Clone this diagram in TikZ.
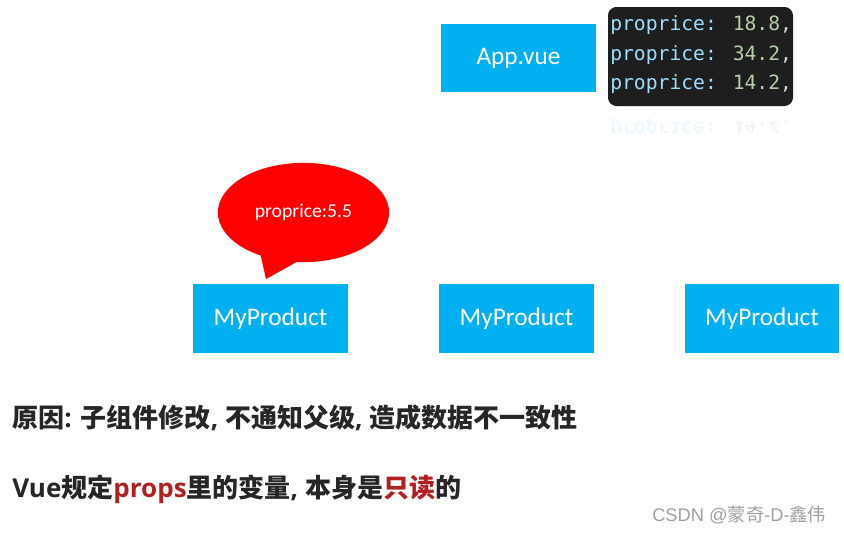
\documentclass[tikz,border=0pt]{standalone}
\usepackage{fontspec}
\setmainfont{Carlito}
\newfontfamily\cjk{Noto Sans CJK SC}
\newfontfamily\latn{Open Sans}
\newfontfamily\codefont{DejaVu Sans Mono}
\newfontfamily\markfont{Liberation Sans}
\usepackage{tikz}
\usetikzlibrary{shapes.geometric}

\definecolor{boxblue}{HTML}{00B0F0}
\definecolor{codebg}{HTML}{1E1E1E}
\definecolor{codekey}{HTML}{9CDCFE}
\definecolor{codenum}{HTML}{B5CEA8}
\definecolor{codepunct}{HTML}{D4D4D4}
\definecolor{darktext}{HTML}{262626}
\definecolor{hilite}{HTML}{B02020}
\definecolor{marktext}{HTML}{A0A0A0}

\tikzset{
  compbox/.style={fill=boxblue,text=white,minimum width=3.85cm,minimum height=1.72cm,
    font=\fontsize{18}{22}\selectfont},
  codeline/.style={anchor=west,inner sep=0pt,text=codepunct,font=\codefont\fontsize{14}{16}\selectfont},
  notetext/.style={anchor=west,inner sep=0pt,text=darktext,font=\fontsize{18.5}{22}\selectfont\bfseries}
}
\newcommand{\zh}[1]{{\cjk\bfseries #1}}
\newcommand{\en}[1]{{\latn\bfseries #1}}
\newcommand{\codeentry}[1]{\textcolor{codekey}{proprice:} \textcolor{codenum}{#1},}

\begin{document}
\begin{tikzpicture}[x=0.025cm,y=-0.025cm]
\useasboundingbox[fill=white] (0,0) rectangle (844,534);

% parent component and its data
\node[compbox] (app) at (518.5,58) {App.vue};
\fill[codebg,rounded corners=6pt] (608,7) rectangle (793,106);
\node[codeline] (l1) at (610,25) {\codeentry{18.8}};
\node[codeline] (l2) at (610,55) {\codeentry{34.2}};
\node[codeline] (l3) at (610,84) {\codeentry{14.2}};
\begin{scope}
  \clip (604,108) rectangle (797,132);
  \node[codeline,yscale=-1,opacity=0.22] (l3r) at (610,128) {\codeentry{14.2}};
\end{scope}

% child components
\node[compbox] (p1) at (270.5,318.5) {MyProduct};
\node[compbox] (p2) at (516.5,318.5) {MyProduct};
\node[compbox] (p3) at (762,318.5) {MyProduct};

% speech bubble
\coordinate (tip) at (266,279);
\fill[red] (259,248) -- (tip) -- (302,259) -- cycle;
\node[ellipse,fill=red,text=white,minimum width=4.28cm,minimum height=2.48cm,
  font=\fontsize{14}{16}\selectfont] (bub) at (303.5,212.5) {proprice:5.5};

% notes
\node[notetext] (n1) at (12,418) {\zh{原因}\en{: }\zh{子组件修改}\en{, }\zh{不通知父级}\en{, }\zh{造成数据不一致性}};
\node[notetext] (n2) at (12,489) {\en{Vue}\zh{规定}\textcolor{hilite}{\en{props}}\zh{里的变量}\en{, }\zh{本身是}\textcolor{hilite}{\zh{只读}}\zh{的}};

\node[anchor=west,inner sep=0pt,text=marktext,font=\markfont\fontsize{13}{15}\selectfont] (mark) at (652,515)
  {CSDN @{\cjk 蒙奇}-D-{\cjk 鑫伟}};
\end{tikzpicture}
\end{document}
